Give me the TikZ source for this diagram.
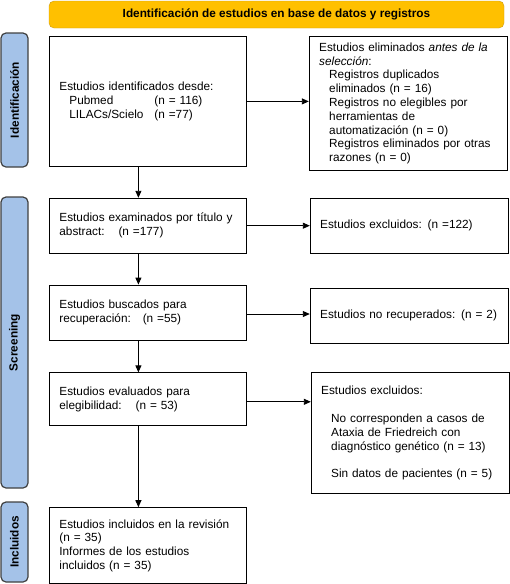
\documentclass[tikz,border=0pt]{standalone}
\usepackage{fontspec}
\setmainfont{Liberation Sans}
\usetikzlibrary{arrows.meta, positioning}
\definecolor{bannerfill}{RGB}{255,192,0}
\definecolor{bannerline}{RGB}{205,155,20}
\definecolor{phasefill}{RGB}{164,194,232}
\definecolor{phaseline}{RGB}{64,64,64}
\newcommand{\indnt}{\hspace*{10pt}}
\tikzset{
  box/.style={rectangle, draw, line width=0.8pt, align=left,
              inner xsep=10pt, inner ysep=3pt,
              font=\fontsize{11.8}{13.8}\selectfont},
  mainbox/.style={box, text width=177pt},
  sidebox/.style={box, text width=178pt},
  banner/.style={rectangle, draw=bannerline, fill=bannerfill, rounded corners=5pt,
                 minimum width=455pt, minimum height=27pt,
                 font=\fontsize{11.8}{13.8}\selectfont\bfseries},
  phase/.style={rectangle, draw=phaseline, fill=phasefill, line width=1.2pt,
                rounded corners=5pt, rotate=90, minimum height=27pt,
                font=\fontsize{11.8}{13.8}\selectfont\bfseries},
  arr/.style={-{Triangle[length=7pt,width=6pt]}, line width=0.9pt},
}

\begin{document}
\begin{tikzpicture}[x=1pt, y=-1pt]

  \useasboundingbox (0,0) rectangle (509,584);

  \node[banner] (title) at (276.5,14.5)
    {Identificación de estudios en base de datos y registros};

  \node[phase, minimum width=134pt] (phident) at (14.5,100) {Identificación};
  \node[phase, minimum width=291pt] (phscreen) at (14.5,342.5) {Screening};
  \node[phase, minimum width=80pt] (phincl) at (14.5,542) {Incluidos};

  \node[mainbox, minimum height=130pt, anchor=north west] (ident) at (49,36)
    {Estudios identificados desde:\\
     \indnt\makebox[85pt][l]{Pubmed}(n = 116)\\
     \indnt\makebox[85pt][l]{LILACs/Scielo}(n =77)};

  \node[mainbox, minimum height=55pt, below=31pt of ident.south west, anchor=north west] (screen)
    {Estudios examinados por título y\\ abstract:\hspace{8pt} (n =177)};

  \node[mainbox, minimum height=55pt, below=31pt of screen.south west, anchor=north west] (retrieve)
    {Estudios buscados para\\ recuperación:\hspace{6pt} (n =55)};

  \node[mainbox, minimum height=53pt, below=32pt of retrieve.south west, anchor=north west] (elig)
    {Estudios evaluados para\\ elegibilidad:\hspace{8pt} (n = 53)};

  \node[mainbox, minimum height=76pt, below=81pt of elig.south west, anchor=north west] (incl)
    {Estudios incluidos en la revisión\\ (n = 35)\\ Informes de los estudios\\ incluidos (n = 35)};

  \node[sidebox, minimum height=134pt, right=62pt of ident.north east, anchor=north west] (removed)
    {Estudios eliminados \textit{antes de la}\\ \textit{selección}:\\
     \indnt Registros duplicados\\ \indnt eliminados (n = 16)\\
     \indnt Registros no elegibles por\\ \indnt herramientas de\\
     \indnt automatización (n = 0)\\
     \indnt Registros eliminados por otras\\ \indnt razones (n = 0)};

  \node[sidebox, minimum height=55pt, right=63pt of screen.north east, anchor=north west] (excl)
    {Estudios excluidos: (n =122)};

  \node[sidebox, minimum height=55pt, right=63pt of retrieve.north east, anchor=north west, yshift=-3pt] (notret)
    {Estudios no recuperados: (n = 2)};

  \node[sidebox, minimum height=121pt, right=64pt of elig.north east, anchor=north west] (exclelig)
    {Estudios excluidos:\\[13.8pt]
     \indnt No corresponden a casos de\\ \indnt Ataxia de Friedreich con\\
     \indnt diagnóstico genético (n = 13)\\[13.8pt]
     \indnt Sin datos de pacientes (n = 5)};

  \coordinate (retout) at ([yshift=-1.5pt]retrieve.east);
  \coordinate (eligout) at ([yshift=-2.5pt]elig.east);

  \draw[arr] (ident.east) -- (removed.west |- ident.east);
  \draw[arr] (screen.east) -- (excl.west |- screen.east);
  \draw[arr] (retout) -- (notret.west |- retout);
  \draw[arr] (eligout) -- (exclelig.west |- eligout);

  \foreach \a/\b in {ident/screen, screen/retrieve, retrieve/elig, elig/incl}
    \draw[arr] ([xshift=-9.5pt]\a.south) -- ([xshift=-9.5pt]\b.north);

\end{tikzpicture}
\end{document}
